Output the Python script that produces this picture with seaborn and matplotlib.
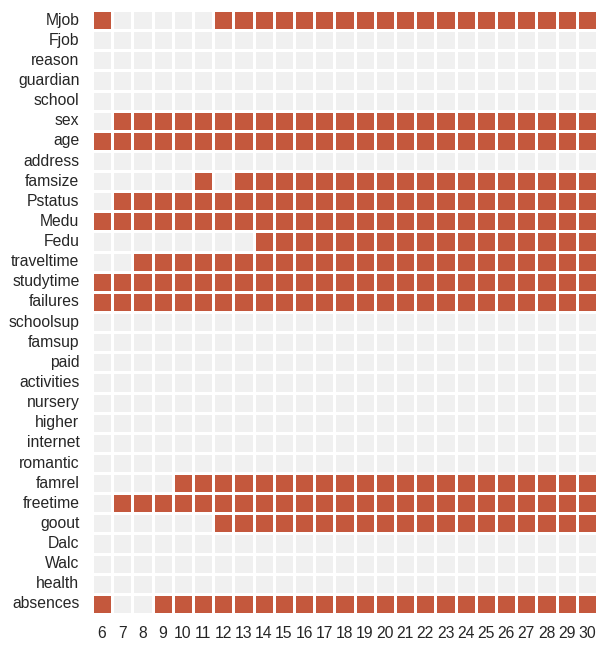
import numpy as np
import pandas as pd
import matplotlib
matplotlib.use("Agg")
import matplotlib.pyplot as plt
import seaborn as sns
from matplotlib.colors import ListedColormap

sns.set_theme(style="white")
plt.rcParams["font.family"] = ["Liberation Sans", "DejaVu Sans"]

# number of features kept (columns)
n_features = list(range(6, 31))

features = ["Mjob", "Fjob", "reason", "guardian", "school", "sex", "age", "address",
            "famsize", "Pstatus", "Medu", "Fedu", "traveltime", "studytime", "failures",
            "schoolsup", "famsup", "paid", "activities", "nursery", "higher", "internet",
            "romantic", "famrel", "freetime", "goout", "Dalc", "Walc", "health", "absences"]

# selected (1) or not (0) for each k = 6..30
Mjob       = [1,0,0,0,0,0,1,1,1,1,1,1,1,1,1,1,1,1,1,1,1,1,1,1,1]
Fjob       = [0]*25
reason     = [0]*25
guardian   = [0]*25
school     = [0]*25
sex        = [0,1,1,1,1,1,1,1,1,1,1,1,1,1,1,1,1,1,1,1,1,1,1,1,1]
age        = [1]*25
address    = [0]*25
famsize    = [0,0,0,0,0,1,0,1,1,1,1,1,1,1,1,1,1,1,1,1,1,1,1,1,1]
Pstatus    = [0,1,1,1,1,1,1,1,1,1,1,1,1,1,1,1,1,1,1,1,1,1,1,1,1]
Medu       = [1]*25
Fedu       = [0,0,0,0,0,0,0,0,1,1,1,1,1,1,1,1,1,1,1,1,1,1,1,1,1]
traveltime = [0,0,1,1,1,1,1,1,1,1,1,1,1,1,1,1,1,1,1,1,1,1,1,1,1]
studytime  = [1]*25
failures   = [1]*25
schoolsup  = [0]*25
famsup     = [0]*25
paid       = [0]*25
activities = [0]*25
nursery    = [0]*25
higher     = [0]*25
internet   = [0]*25
romantic   = [0]*25
famrel     = [0,0,0,0,1,1,1,1,1,1,1,1,1,1,1,1,1,1,1,1,1,1,1,1,1]
freetime   = [0,1,1,1,1,1,1,1,1,1,1,1,1,1,1,1,1,1,1,1,1,1,1,1,1]
goout      = [0,0,0,0,0,0,1,1,1,1,1,1,1,1,1,1,1,1,1,1,1,1,1,1,1]
Dalc       = [0]*25
Walc       = [0]*25
health     = [0]*25
absences   = [1,0,0,1,1,1,1,1,1,1,1,1,1,1,1,1,1,1,1,1,1,1,1,1,1]

rows = [Mjob, Fjob, reason, guardian, school, sex, age, address, famsize, Pstatus,
        Medu, Fedu, traveltime, studytime, failures, schoolsup, famsup, paid,
        activities, nursery, higher, internet, romantic, famrel, freetime, goout,
        Dalc, Walc, health, absences]

data = pd.DataFrame(rows, index=features, columns=n_features)

fig, ax = plt.subplots(figsize=(6.05, 6.51), dpi=100)
cmap = ListedColormap(["#f0f0f0", "#c4583d"])
sns.heatmap(data, cmap=cmap, cbar=False, linewidths=0.75, linecolor="white",
            vmin=0, vmax=1, ax=ax)
ax.set_xlabel("")
ax.set_ylabel("")
ax.tick_params(axis="both", length=0, labelsize=11.3, labelcolor="#262626")
ax.tick_params(axis="x", pad=9)
ax.tick_params(axis="y", pad=9)
plt.setp(ax.get_yticklabels(), rotation=0)
plt.setp(ax.get_xticklabels(), rotation=0)

plt.subplots_adjust(left=92/605, right=597/605, top=1-10/651, bottom=1-614/651)
plt.savefig("out.png", dpi=100)
